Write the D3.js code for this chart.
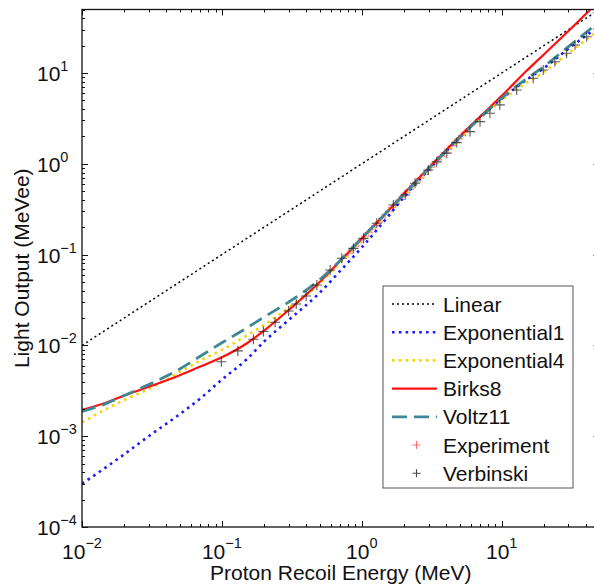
<!DOCTYPE html>
<meta charset="utf-8">
<script src="https://cdn.jsdelivr.net/npm/d3@7"></script>
<style>
body {margin: 0; background: #fff;}
svg {display: block; font-family: "Liberation Sans", Arial, sans-serif;}
</style>
<div id="vis"></div>
<script>
// energies (MeV) where the model curves were read
var energy = [0.01, 0.015, 0.02, 0.03, 0.05, 0.07, 0.1, 0.15, 0.2, 0.3, 0.5, 0.7, 1, 1.5, 2, 3, 5, 7, 10, 15, 20, 30, 50];

// light output (MeVee) of each model
var exponential1 = [3.0e-4, 4.6e-4, 6.3e-4, 1.0e-3, 1.75e-3, 2.6e-3, 4.2e-3, 7.0e-3, 0.011, 0.019, 0.038, 0.066, 0.12, 0.25, 0.43, 0.86, 1.95, 3.3, 5.2, 8.4, 11.3, 18.5, 33];
var exponential4 = [1.42e-3, 2.0e-3, 2.5e-3, 3.3e-3, 5.1e-3, 6.8e-3, 8.9e-3, 0.0128, 0.0168, 0.026, 0.048, 0.082, 0.148, 0.285, 0.45, 0.86, 1.9, 3.15, 5.0, 7.8, 10.3, 16.5, 30];
var birks8 = [1.95e-3, 2.35e-3, 2.8e-3, 3.5e-3, 4.7e-3, 5.85e-3, 7.4e-3, 0.0105, 0.0145, 0.0245, 0.05, 0.085, 0.15, 0.29, 0.47, 0.9, 2.0, 3.3, 5.6, 10.5, 16, 29, 63];
var voltz11 = [1.87e-3, 2.3e-3, 2.8e-3, 3.7e-3, 5.5e-3, 7.6e-3, 0.0107, 0.0155, 0.0205, 0.030, 0.053, 0.086, 0.152, 0.29, 0.46, 0.88, 1.95, 3.2, 5.3, 8.6, 11.8, 19.5, 37];
var linearE = [0.01, 50];
var linearL = [0.01, 50];

// measured points
var experimentE = [0.80, 0.85, 0.90, 0.95, 1.00, 1.06, 1.12, 1.18, 1.25, 1.32, 1.40, 1.48, 1.56, 1.65, 1.75, 1.85, 1.96, 2.08, 2.20, 2.33, 2.47, 2.62, 2.78, 2.95, 3.12, 3.30, 3.50, 3.70, 3.92, 4.15, 4.40, 4.65, 4.92, 5.20, 5.50];
var experimentL = [0.102, 0.112, 0.124, 0.135, 0.146, 0.160, 0.175, 0.190, 0.209, 0.228, 0.252, 0.276, 0.300, 0.330, 0.363, 0.398, 0.435, 0.478, 0.523, 0.575, 0.630, 0.692, 0.762, 0.838, 0.915, 1.00, 1.10, 1.20, 1.31, 1.44, 1.58, 1.72, 1.88, 2.04, 2.22];
var verbinskiE = [0.099, 0.130, 0.168, 0.198, 0.240, 0.30, 0.34, 0.40, 0.477, 0.594, 0.72, 0.87, 1.03, 1.28, 1.68, 2.04, 2.4, 2.99, 3.43, 4.05, 4.77, 5.94, 7.0, 8.24, 9.7, 12.8, 16.8, 19.8, 24.0, 29.1, 33.4, 40.5];
var verbinskiL = [0.0066, 0.0087, 0.0117, 0.0142, 0.0180, 0.0239, 0.0286, 0.035, 0.0463, 0.0676, 0.091, 0.117, 0.151, 0.221, 0.351, 0.453, 0.61, 0.855, 1.05, 1.31, 1.71, 2.26, 2.91, 3.6, 4.45, 6.5, 8.75, 10.8, 13.3, 16.5, 20.3, 25.1];

var xExponents = [-2, -1, 0, 1];
var yExponents = [-4, -3, -2, -1, 0, 1];

var width = 594, height = 587;
var plotLeft = 82, plotRight = 599.5, plotTop = 9.5, plotBottom = 527;

var svg = d3.select("#vis").append("svg")
    .attr("width", width)
    .attr("height", height);

var x = d3.scaleLog().domain([0.01, 50]).range([plotLeft, plotRight]);
var y = d3.scaleLog().domain([1e-4, 50]).range([plotBottom, plotTop]);

svg.append("clipPath").attr("id", "plotclip")
  .append("rect")
    .attr("x", plotLeft).attr("y", plotTop)
    .attr("width", plotRight - plotLeft).attr("height", plotBottom - plotTop);

var plot = svg.append("g").attr("clip-path", "url(#plotclip)");

var line = d3.line()
    .x(function(d) { return x(d[0]); })
    .y(function(d) { return y(d[1]); })
    .curve(d3.curveMonotoneX);

var series = [
  {name: "Linear", e: linearE, l: linearL, color: "#000", width: 1.5, dash: "2,3"},
  {name: "Exponential1", e: energy, l: exponential1, color: "#1a1aff", width: 2.6, dash: "2.6,4.2"},
  {name: "Exponential4", e: energy, l: exponential4, color: "#ffd000", width: 2.6, dash: "2.6,4.2"},
  {name: "Birks8", e: energy, l: birks8, color: "#ff1010", width: 2.2, dash: null},
  {name: "Voltz11", e: energy, l: voltz11, color: "#3d8796", width: 2.8, dash: "14,7"}
];

function plus(g, ex, ly, r, color, opacity) {
  g.selectAll(null)
    .data(d3.zip(ex, ly))
    .enter().append("path")
      .attr("d", function(d) {
        var px = x(d[0]), py = y(d[1]);
        return "M" + (px - r) + "," + py + "H" + (px + r) + "M" + px + "," + (py - r) + "V" + (py + r);
      })
      .attr("stroke", color)
      .attr("stroke-opacity", opacity)
      .attr("stroke-width", 1.1)
      .attr("fill", "none");
}

// red experiment points under the curves, black Verbinski on top
plus(plot, experimentE, experimentL, 4, "#ff3030", 0.45);

series.forEach(function(s) {
  plot.append("path")
    .datum(d3.zip(s.e, s.l))
    .attr("d", line)
    .attr("fill", "none")
    .attr("stroke", s.color)
    .attr("stroke-width", s.width)
    .attr("stroke-dasharray", s.dash);
});

plus(plot, verbinskiE, verbinskiL, 5, "#222", 0.75);

// ticks, inside the box on all four sides
var axes = svg.append("g").attr("stroke", "#111").attr("stroke-width", 1);
var xMinor = [], yMinor = [];
d3.range(-2, 2).forEach(function(p) {
  d3.range(2, 10).forEach(function(m) { var v = m * Math.pow(10, p); if (v <= 50) xMinor.push(v); });
});
d3.range(-4, 2).forEach(function(p) {
  d3.range(2, 10).forEach(function(m) { var v = m * Math.pow(10, p); if (v <= 50) yMinor.push(v); });
});

function xt(vals, len) {
  vals.forEach(function(v) {
    var px = Math.round(x(v)) + 0.5;
    axes.append("line").attr("x1", px).attr("x2", px).attr("y1", plotBottom).attr("y2", plotBottom - len);
    axes.append("line").attr("x1", px).attr("x2", px).attr("y1", plotTop).attr("y2", plotTop + len);
  });
}
function yt(vals, len) {
  vals.forEach(function(v) {
    var py = Math.round(y(v)) + 0.5;
    axes.append("line").attr("y1", py).attr("y2", py).attr("x1", plotLeft).attr("x2", plotLeft + len);
    axes.append("line").attr("y1", py).attr("y2", py).attr("x1", plotRight).attr("x2", plotRight - len);
  });
}
xt(xMinor, 3);
xt(xExponents.map(function(p) { return Math.pow(10, p); }), 6);
yt(yMinor, 3);
yt(yExponents.map(function(p) { return Math.pow(10, p); }), 6);

axes.append("rect")
    .attr("x", plotLeft).attr("y", plotTop)
    .attr("width", plotRight - plotLeft).attr("height", plotBottom - plotTop)
    .attr("fill", "none")
    .attr("stroke-width", 1.3);

// tick labels 10^n
xExponents.forEach(function(p) {
  var t = svg.append("text")
      .attr("x", x(Math.pow(10, p)))
      .attr("y", 559)
      .attr("text-anchor", "middle")
      .attr("font-size", 21)
      .attr("fill", "#111");
  t.append("tspan").text("10");
  t.append("tspan").attr("dy", -11).attr("font-size", 14.5).text(p < 0 ? "\u2212" + (-p) : p);
});

yExponents.forEach(function(p) {
  var t = svg.append("text")
      .attr("x", 37)
      .attr("y", y(Math.pow(10, p)) + 8)
      .attr("font-size", 21)
      .attr("fill", "#111");
  t.append("tspan").text("10");
  t.append("tspan").attr("dy", -10).attr("font-size", 14.5).text(p < 0 ? "\u2212" + (-p) : p);
});

svg.append("text")
    .attr("x", (plotLeft + plotRight) / 2)
    .attr("y", 580)
    .attr("text-anchor", "middle")
    .attr("font-size", 21)
    .attr("fill", "#111")
    .text("Proton Recoil Energy (MeV)");

svg.append("text")
    .attr("transform", "translate(29," + (plotTop + plotBottom) / 2 + ") rotate(-90)")
    .attr("text-anchor", "middle")
    .attr("font-size", 21)
    .attr("fill", "#111")
    .text("Light Output (MeVee)");

// legend
var legend = svg.append("g");
legend.append("rect")
    .attr("x", 383).attr("y", 286)
    .attr("width", 190).attr("height", 202)
    .attr("fill", "#fff")
    .attr("stroke", "#555")
    .attr("stroke-width", 1);

var rowY = function(i) { return 304 + i * 28.2; };

series.forEach(function(s, i) {
  legend.append("line")
      .attr("x1", 392).attr("x2", 437)
      .attr("y1", rowY(i)).attr("y2", rowY(i))
      .attr("stroke", s.color)
      .attr("stroke-width", s.width)
      .attr("stroke-dasharray", s.name == "Voltz11" ? "15,7" : s.dash);
});

var markerRows = [
  {name: "Experiment", color: "#ff3030", opacity: 0.7},
  {name: "Verbinski", color: "#222", opacity: 0.85}
];
markerRows.forEach(function(m, j) {
  var cy = rowY(series.length + j), cx = 416.5;
  legend.append("path")
      .attr("d", "M" + (cx - 4) + "," + cy + "H" + (cx + 4) + "M" + cx + "," + (cy - 4) + "V" + (cy + 4))
      .attr("stroke", m.color)
      .attr("stroke-opacity", m.opacity)
      .attr("stroke-width", 1.1);
});

var names = series.map(function(s) { return s.name; }).concat(markerRows.map(function(m) { return m.name; }));
names.forEach(function(n, i) {
  legend.append("text")
      .attr("x", 443)
      .attr("y", rowY(i) + 7.5)
      .attr("font-size", 21)
      .attr("fill", "#111")
      .text(n);
});
</script>
